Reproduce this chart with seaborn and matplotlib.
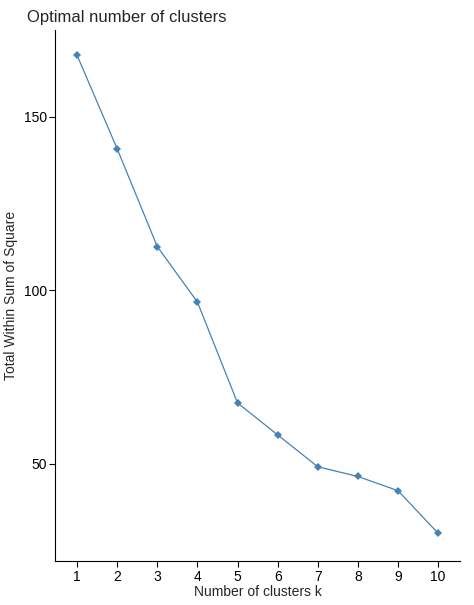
import matplotlib
matplotlib.use("Agg")
import matplotlib.pyplot as plt
import pandas as pd
import seaborn as sns

# values
k_values = [1, 2, 3, 4, 5, 6, 7, 8, 9, 10]
wss = [167.8, 140.8, 112.6, 96.6, 67.5, 58.3, 49.1, 46.3, 42.2, 29.9]

sns.set_style("ticks")
plt.rcParams['font.family'] = ['Liberation Sans', 'DejaVu Sans']

df = pd.DataFrame({"k": k_values, "wss": wss})

fig = plt.figure(figsize=(4.74, 6.05), dpi=100)
ax = fig.add_axes([0.116, 0.072, 0.855, 0.878])
sns.lineplot(data=df, x="k", y="wss", ax=ax, color="steelblue", linewidth=0.9,
             marker="D", markersize=4, markeredgewidth=0)

ax.set_xlim(0.45, 10.55)
ax.set_ylim(21.8, 175)
ax.set_xticks(k_values)
ax.set_yticks([50, 100, 150])
ax.tick_params(labelsize=10, colors="black", length=4, pad=2)
ax.set_xlabel("Number of clusters k", fontsize=10, labelpad=1)
ax.set_ylabel("Total Within Sum of Square", fontsize=10)
ax.set_title("Optimal number of clusters", loc="left", fontsize=12, x=-0.07)
sns.despine(ax=ax)
for s in ["left", "bottom"]:
    ax.spines[s].set_color("black")

fig.savefig("out.png", dpi=100)
